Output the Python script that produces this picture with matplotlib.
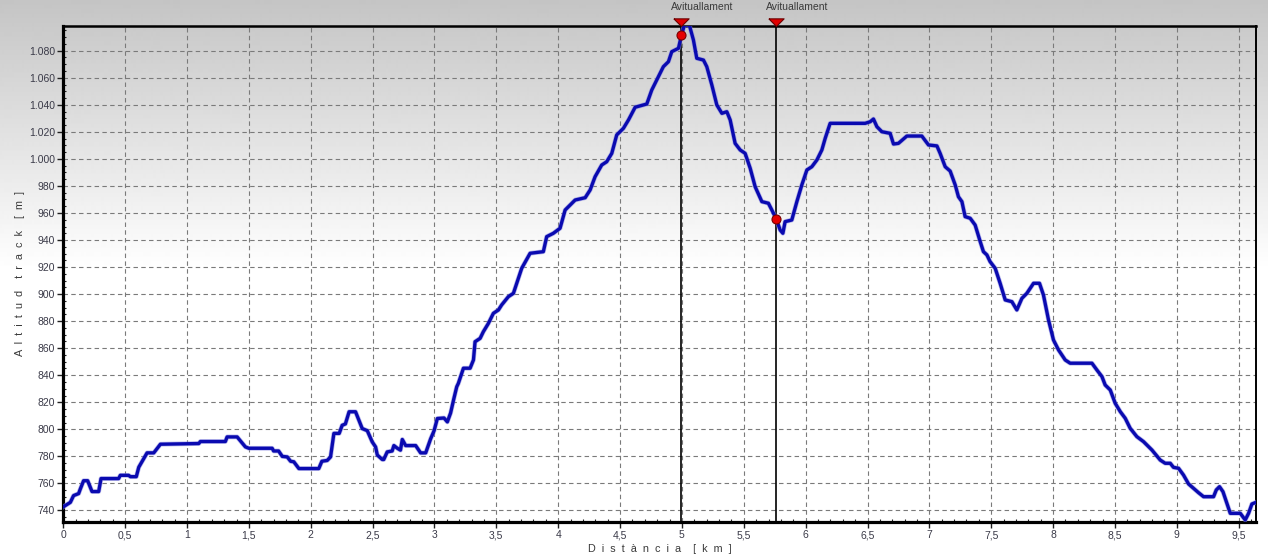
import numpy as np
import matplotlib
matplotlib.use("Agg")
import matplotlib.pyplot as plt
import matplotlib.transforms as mtransforms
import matplotlib.patheffects as pe
from matplotlib.path import Path
from matplotlib.ticker import FixedLocator, MultipleLocator, FuncFormatter

# elevation profile: distance [km], altitude [m]
dist = [0, 0.057, 0.083, 0.124, 0.138, 0.164, 0.197, 0.232, 0.286, 0.305, 0.447, 0.461, 0.528,
        0.542, 0.59, 0.61, 0.65, 0.677, 0.731, 0.785, 1.095, 1.108, 1.31, 1.324, 1.405, 1.472,
        1.5, 1.688, 1.70, 1.74, 1.77, 1.81, 1.837, 1.863, 1.904, 2.065, 2.09, 2.133, 2.16,
        2.187, 2.23, 2.254, 2.28, 2.31, 2.362, 2.416, 2.457, 2.497, 2.524, 2.538, 2.578, 2.59,
        2.618, 2.658, 2.672, 2.70, 2.725, 2.74, 2.767, 2.848, 2.888, 2.929, 2.969, 2.997,
        3.023, 3.077, 3.104, 3.13, 3.157, 3.18, 3.193, 3.234, 3.288, 3.315, 3.328, 3.369,
        3.395, 3.436, 3.476, 3.517, 3.543, 3.597, 3.638, 3.665, 3.705, 3.773, 3.880, 3.907,
        3.961, 4.015, 4.056, 4.137, 4.218, 4.258, 4.298, 4.352, 4.392, 4.433, 4.473, 4.527,
        4.568, 4.622, 4.716, 4.756, 4.81, 4.85, 4.891, 4.918, 4.972, 4.995, 5.02, 5.06,
        5.093, 5.12, 5.174, 5.201, 5.242, 5.282, 5.323, 5.363, 5.39, 5.43, 5.471, 5.511,
        5.552, 5.592, 5.646, 5.699, 5.74, 5.762, 5.794, 5.816, 5.834, 5.888, 5.929, 5.969,
        6.01, 6.05, 6.091, 6.131, 6.158, 6.198, 6.481, 6.522, 6.548, 6.576, 6.616, 6.683,
        6.71, 6.75, 6.818, 6.939, 6.993, 7.061, 7.087, 7.128, 7.168, 7.209, 7.235, 7.263,
        7.289, 7.33, 7.37, 7.411, 7.437, 7.465, 7.491, 7.532, 7.572, 7.613, 7.667, 7.707,
        7.748, 7.788, 7.842, 7.89, 7.922, 7.963, 8.003, 8.044, 8.098, 8.138, 8.314, 8.354,
        8.395, 8.421, 8.462, 8.502, 8.543, 8.583, 8.623, 8.677, 8.731, 8.799, 8.866, 8.906,
        8.947, 8.973, 9.014, 9.054, 9.095, 9.135, 9.175, 9.216, 9.297, 9.319, 9.345, 9.373,
        9.405, 9.432, 9.513, 9.553, 9.58, 9.607, 9.634]
alt = [742.7, 746, 751, 752.5, 756, 762, 762, 754, 754, 763.6, 763.6, 766, 766,
       765, 765, 772, 778.4, 782.6, 782.6, 789, 789.5, 791, 791, 794.4, 794.4, 787,
       786, 786, 784, 784, 780, 779.6, 776.4, 776, 771, 771, 776.4, 777, 779.6,
       797, 797, 803, 804, 813, 813, 800.6, 799, 790.7, 787, 781, 777.7, 777.7,
       783.3, 784, 788, 786, 784.6, 792.5, 788, 788, 782.6, 782.6, 793, 799,
       808, 808.4, 805.5, 812, 822.8, 831.5, 834, 845.2, 845.2, 851.3, 864.8, 867.3,
       872.2, 878.4, 885.8, 888.3, 892, 898.1, 900.6, 908, 919.1, 930.2, 931.4, 942.5,
       945, 948.7, 962.2, 969.6, 971.3, 977, 986.8, 995.5, 997.9, 1004.1, 1017.7, 1022.6,
       1028.8, 1038.2, 1040.6, 1050.9, 1060.8, 1068.2, 1071.9, 1079.3, 1081.8, 1091, 1099, 1099,
       1087.9, 1074.4, 1073.1, 1068.2, 1054.6, 1039.9, 1033.7, 1034.9, 1028.8, 1011.5, 1006.6, 1004.1,
       993, 979.4, 968.4, 967.2, 959.8, 955.6, 947.4, 945, 953.6, 954.8, 968.4, 980.7,
       991.8, 994.2, 999.2, 1006.6, 1015.2, 1026.3, 1026.3, 1027.5, 1029.5, 1023.8, 1020.1, 1018.9,
       1011, 1011.5, 1016.9, 1016.9, 1010.3, 1009.6, 1004.1, 994.2, 991, 980.7, 972, 968.4,
       957.3, 956.1, 951.1, 938.8, 931.4, 929, 924, 919.1, 908, 895.7, 894.4, 888.3,
       896.9, 900.6, 908, 908, 899.4, 880.9, 866.1, 858.7, 851.3, 848.9, 848.9, 843.9,
       839, 832.8, 829.1, 819.3, 813.1, 808.2, 800.8, 794.6, 790.9, 784.7, 777.3, 774.9,
       774.9, 771.9, 771.2, 766.2, 759.6, 756.4, 753.2, 750.2, 750.2, 755.2, 757.6, 753.9,
       745.3, 737.9, 737.9, 733, 737.9, 744.8, 745.8]

# aid stations
aid_dist = [4.995, 5.762]
aid_alt = [1091.6, 955.6]
aid_label = ["Avituallament", "Avituallament"]

x_ticks = [0, 0.5, 1, 1.5, 2, 2.5, 3, 3.5, 4, 4.5, 5, 5.5, 6, 6.5, 7, 7.5, 8, 8.5, 9, 9.5]
y_ticks = [740, 760, 780, 800, 820, 840, 860, 880, 900, 920, 940, 960, 980,
           1000, 1020, 1040, 1060, 1080]

plt.rcParams['font.family'] = ['Liberation Sans', 'DejaVu Sans']

W, H = 1268, 557
fig = plt.figure(figsize=(W / 100, H / 100), dpi=100)

# grey-to-white background gradient
bg = fig.add_axes([0, 0, 1, 1], zorder=-10)
bg.axis('off')
rows = np.arange(H)
shade = np.clip(0.77 + 0.23 * rows / 270.0, 0, 1)
bg.imshow(np.repeat(shade[:, None], 2, axis=1), cmap='gray', vmin=0, vmax=1,
          aspect='auto', extent=[0, 1, 0, 1], interpolation='bilinear')

left, right, top, bottom = 63.3, 1256, 25.7, 521.7
ax = fig.add_axes([left / W, 1 - bottom / H, (right - left) / W, (bottom - top) / H])
ax.patch.set_alpha(0)

ax.set_xlim(0, 9.64)
ax.set_ylim(731.7, 1098.5)

ax.xaxis.set_major_locator(FixedLocator(x_ticks))
ax.yaxis.set_major_locator(FixedLocator(y_ticks))
ax.xaxis.set_minor_locator(MultipleLocator(0.1))
ax.yaxis.set_minor_locator(MultipleLocator(5))
ax.xaxis.set_major_formatter(FuncFormatter(lambda v, p: f"{v:g}".replace(".", ",")))
ax.yaxis.set_major_formatter(FuncFormatter(lambda v, p: f"{int(round(v)):,}".replace(",", ".")))

ax.tick_params(which='major', direction='out', length=4, width=1, colors='#202020',
               labelcolor='#3a3a48', labelsize=7.5, pad=2)
ax.tick_params(which='minor', direction='in', length=2.5, width=0.8, colors='#202020')

ax.grid(True, which='major', color='#7a7a7a', linestyle=(0, (4, 3)), linewidth=0.8)
ax.set_axisbelow(True)

for side, lw in [('left', 2.3), ('bottom', 2.3), ('top', 1.8), ('right', 1.4)]:
    ax.spines[side].set_linewidth(lw)
    ax.spines[side].set_color('black')

for d in aid_dist:
    ax.axvline(d, color='black', lw=1.2, zorder=2)

ax.plot(dist, alt, color='#0a0ab0', lw=2.4, solid_joinstyle='round', zorder=3,
        path_effects=[pe.Stroke(linewidth=3.4, foreground='#8a8ae0', alpha=0.6), pe.Normal()])

ax.plot(aid_dist, aid_alt, 'o', ms=6.5, mfc='#e60000', mec='#7a0000', mew=0.8, zorder=4)

trans = mtransforms.blended_transform_factory(ax.transData, ax.transAxes)
tri = Path([(-1, 1), (1, 1), (0, 0), (-1, 1)])
ax.plot(aid_dist, [1] * len(aid_dist), linestyle='none', marker=tri, ms=11,
        mfc='#e00000', mec='#6a0000', mew=0.8, transform=trans, clip_on=False, zorder=6)
for d, lab in zip(aid_dist, aid_label):
    ax.annotate(lab, xy=(d, 1), xycoords=trans, xytext=(-10, 18.5), textcoords='offset pixels',
                ha='left', va='center', fontsize=7.5, color='#3a3a3a')

ax.set_xlabel("D  i  s  t  à  n  c  i  a    [  k  m  ]", fontsize=7.8, color='#3a3a3a', labelpad=3)
ax.set_ylabel("A  l  t  i  t  u  d    t  r  a  c  k    [  m  ]", fontsize=7.8, color='#3a3a3a',
              labelpad=3)

fig.savefig("out.png", dpi=100)
